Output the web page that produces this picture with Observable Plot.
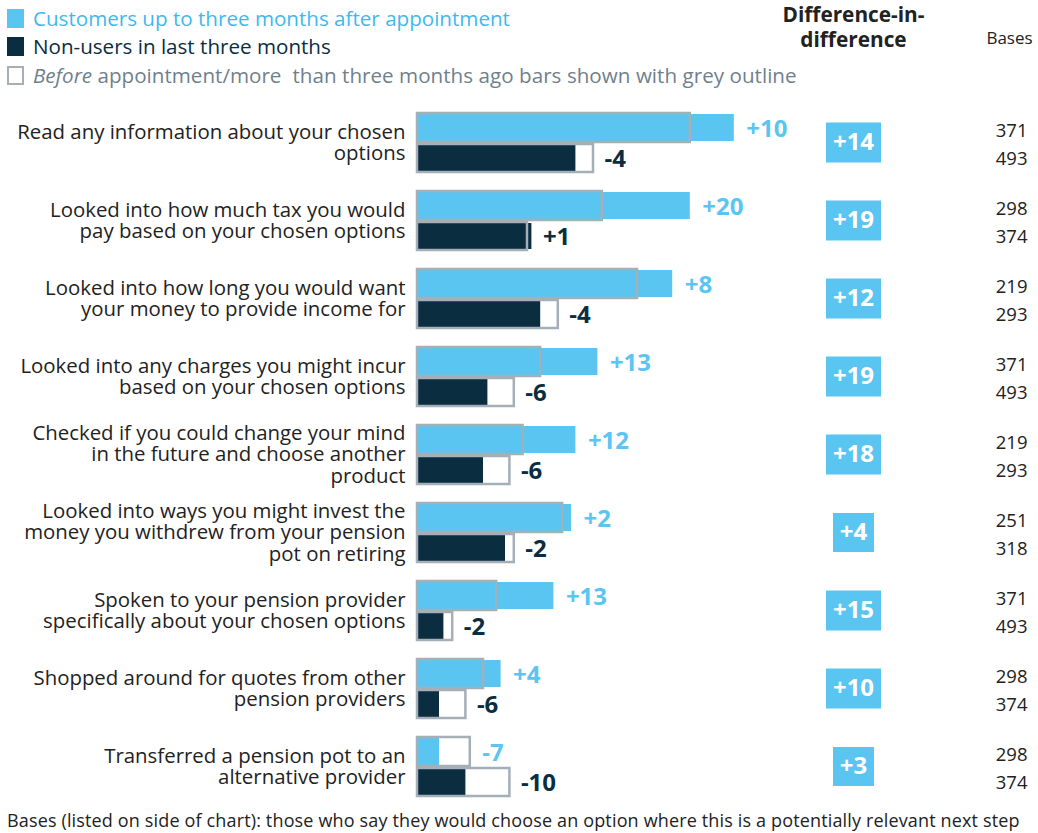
<!DOCTYPE html>
<html>
<head>
<meta charset="utf-8">
<script src="https://cdn.jsdelivr.net/npm/d3@7"></script>
<script src="https://cdn.jsdelivr.net/npm/@observablehq/plot@0.6"></script>
<style>
  html, body { margin: 0; padding: 0; background: #fff; }
  body { width: 1038px; height: 833px; position: relative; overflow: hidden; font-family: "Open Sans", "Noto Sans", sans-serif; }
  #chart { position: absolute; left: 0; top: 0; }
  .legend { position: absolute; left: 7px; font-size: 20.6px; line-height: 22px; white-space: nowrap; display: flex; align-items: center; }
  .legend .sw { width: 17px; height: 19px; margin-right: 9px; box-sizing: border-box; }
  #foot { position: absolute; left: 7px; top: 808px; font-size: 18px; color: #222; white-space: nowrap; letter-spacing: 0.15px; }
</style>
</head>
<body>
<div id="chart"></div>
<div class="legend" style="top:7px;color:#3DB9EE"><div class="sw" style="background:#5BC5F2"></div>Customers up to three months after appointment</div>
<div class="legend" style="top:35px;color:#0A2D40"><div class="sw" style="background:#0A2D40"></div>Non-users in last three months</div>
<div class="legend" style="top:64px;color:#6F7F8C;word-spacing:0.2px"><div class="sw" style="border:2.5px solid #A5AFB8"></div><i>Before</i>&nbsp;appointment/more&nbsp; than three months ago bars shown with grey outline</div>
<div id="foot">Bases (listed on side of chart): those who say they would choose an option where this is a potentially relevant next step</div>
<script>
// ---- data ----
const categories = [
  "Read any information about your chosen\noptions",
  "Looked into how much tax you would\npay based on your chosen options",
  "Looked into how long you would want\nyour money to provide income for",
  "Looked into any charges you might incur\nbased on your chosen options",
  "Checked if you could change your mind\nin the future and choose another\nproduct",
  "Looked into ways you might invest the\nmoney you withdrew from your pension\npot on retiring",
  "Spoken to your pension provider\nspecifically about your chosen options",
  "Shopped around for quotes from other\npension providers",
  "Transferred a pension pot to an\nalternative provider"
];
const customersAfter  = [72, 62, 58, 41, 36, 35, 31, 19, 5];
const customersBefore = [62, 42, 50, 28, 24, 33, 18, 15, 12];
const nonUsersAfter   = [36, 26, 28, 16, 15, 20, 6, 5, 11];
const nonUsersBefore  = [40, 25, 32, 22, 21, 22, 8, 11, 21];
const customersChange = [10, 20, 8, 13, 12, 2, 13, 4, -7];
const nonUsersChange  = [-4, 1, -4, -6, -6, -2, -2, -6, -10];
const diffInDiff      = [14, 19, 12, 19, 18, 4, 15, 10, 3];
const basesCustomers  = [371, 298, 219, 371, 219, 251, 371, 298, 298];
const basesNonUsers   = [493, 374, 293, 493, 293, 318, 493, 374, 374];

const rows = categories.map((c, i) => ({
  cat: c,
  cA: customersAfter[i], cB: customersBefore[i],
  nA: nonUsersAfter[i], nB: nonUsersBefore[i],
  cChg: customersChange[i], nChg: nonUsersChange[i],
  did: diffInDiff[i],
  bC: basesCustomers[i], bN: basesNonUsers[i]
}));

const BLUE = "#5BC5F2", NAVY = "#0A2D40", GREY = "#A5AFB8", TXT = "#222";
const FONT = "'Open Sans', 'Noto Sans', sans-serif";
const sign = v => (v > 0 ? "+" : "") + v;

function rectSymbol(w, h) {
  return { draw(ctx) { ctx.moveTo(-w/2, -h/2); ctx.lineTo(w/2, -h/2); ctx.lineTo(w/2, h/2); ctx.lineTo(-w/2, h/2); ctx.closePath(); } };
}

const chart = Plot.plot({
  width: 1038,
  height: 833,
  marginLeft: 417,
  marginRight: 181,
  marginTop: 0,
  marginBottom: 0,
  style: { fontFamily: FONT, background: "transparent" },
  x: { domain: [0, 100], range: [417, 857], axis: null },
  y: { type: "band", domain: categories, range: [110, 798], paddingInner: 0.2357, paddingOuter: 0, axis: null },
  marks: [
    // bars
    Plot.barX(rows, { x: "cA", y: "cat", fill: BLUE, insetTop: 2, insetBottom: 31 }),
    Plot.barX(rows, { x: "nA", y: "cat", fill: NAVY, insetTop: 33, insetBottom: 1 }),
    // before outlines
    Plot.barX(rows, { x: "cB", y: "cat", fill: "none", stroke: GREY, strokeWidth: 2.5, insetTop: 1, insetBottom: 30 }),
    Plot.barX(rows, { x: "nB", y: "cat", fill: "none", stroke: GREY, strokeWidth: 2.5, insetTop: 32, insetBottom: 0 }),
    // change labels
    Plot.text(rows, { x: d => Math.max(d.cA, d.cB), y: "cat", text: d => sign(d.cChg), textAnchor: "start", dx: 12, dy: -13,
      fill: BLUE, fontWeight: "bold", fontSize: 24 }),
    Plot.text(rows, { x: d => Math.max(d.nA, d.nB), y: "cat", text: d => sign(d.nChg), textAnchor: "start", dx: 11, dy: 17,
      fill: NAVY, fontWeight: "bold", fontSize: 24 }),
    // category labels
    Plot.text(rows, { y: "cat", text: "cat", frameAnchor: "left", textAnchor: "end", dx: -12, fill: TXT, fontSize: 20.4, lineHeight: 1.05 }),
    // diff-in-diff boxes
    Plot.dot(rows, { filter: d => String(d.did).length >= 2, y: "cat", frameAnchor: "right", dx: -4, symbol: rectSymbol(55, 40), fill: BLUE, stroke: null, r: 5 }),
    Plot.dot(rows, { filter: d => String(d.did).length < 2, y: "cat", frameAnchor: "right", dx: -4, symbol: rectSymbol(41, 39), fill: BLUE, stroke: null, r: 5 }),
    Plot.text(rows, { y: "cat", text: d => sign(d.did), frameAnchor: "right", textAnchor: "middle", dx: -4, fill: "white", fontWeight: "bold", fontSize: 24 }),
    // bases
    Plot.text(rows, { y: "cat", text: "bC", frameAnchor: "right", textAnchor: "end", dx: 170, dy: -11, fill: TXT, fontSize: 18.5 }),
    Plot.text(rows, { y: "cat", text: "bN", frameAnchor: "right", textAnchor: "end", dx: 170, dy: 17, fill: TXT, fontSize: 18.5 }),
    // column headers
    Plot.text(["Difference-in-\ndifference"], { frameAnchor: "top-right", textAnchor: "middle", dx: -4, dy: 4, lineAnchor: "top", text: d => d, fill: TXT, fontWeight: "bold", fontSize: 20.8, lineHeight: 1.2 }),
    Plot.text(["Bases"], { frameAnchor: "top-right", textAnchor: "middle", dx: 152, dy: 31, lineAnchor: "top", text: d => d, fill: TXT, fontSize: 17 })
  ]
});
document.getElementById("chart").appendChild(chart);
</script>
</body>
</html>
